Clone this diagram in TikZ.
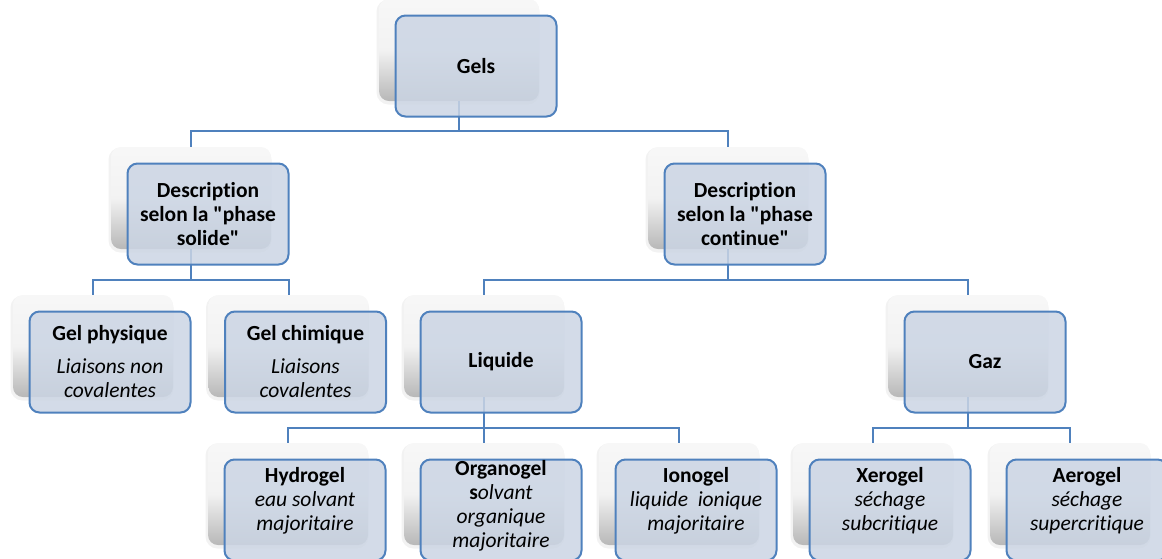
\documentclass[tikz,border=0pt]{standalone}
\usepackage{fontspec}
\setmainfont{Carlito}[Ligatures={TeXOff,NoCommon}]
\usetikzlibrary{calc}
\definecolor{bord}{HTML}{4F81BD}
\definecolor{frontfill}{HTML}{CBD5E4}
\tikzset{
  shadowbox/.style={rectangle, rounded corners=10pt, minimum width=160pt, minimum height=102pt,
    inner sep=0pt, top color=black!3, bottom color=black!28, middle color=black!5, draw=none},
  softedge/.style={rectangle, rounded corners=12pt, minimum width=163pt, minimum height=105pt,
    inner sep=0pt, fill=black, fill opacity=0.05, draw=none},
  frontbox/.style={rectangle, rounded corners=10pt, minimum width=161pt, minimum height=101pt,
    inner sep=2pt, draw=bord, line width=2pt, fill=frontfill, fill opacity=0.85, text opacity=1,
    align=center, font=\fontsize{21.5}{24}\selectfont},
  txt/.style={align=center, font=\fontsize{21.5}{24}\selectfont, inner sep=0pt},
  conn/.style={draw=bord, line width=2pt}
}
\newcommand{\shadowpair}[3]{%
  \node[softedge] at (#2pt-1pt,-#3pt-2pt) {};
  \node[shadowbox] (#1) at (#2pt,-#3pt) {};
}
\begin{document}
\begin{tikzpicture}[x=1pt,y=1pt]
\useasboundingbox (0,0) rectangle (1162,-558);
% shadow (back) boxes
\shadowpair{gels-s}{459}{50}
\shadowpair{sol-s}{191}{198}
\shadowpair{cont-s}{728}{198}
\shadowpair{phys-s}{93}{346}
\shadowpair{chim-s}{288.5}{346}
\shadowpair{liq-s}{484}{346}
\shadowpair{gaz-s}{968}{346}
\shadowpair{hydro-s}{288}{494}
\shadowpair{orga-s}{484}{494}
\shadowpair{iono-s}{679}{494}
\shadowpair{xero-s}{873}{494}
\shadowpair{aero-s}{1070}{494}
% bus levels
\coordinate (bus1) at (0,-131);
\coordinate (bus2) at (0,-280);
\coordinate (bus3) at (0,-428);
% connectors
\draw[conn] (gels-s.south) -- (gels-s.south |- bus1);
\draw[conn] (sol-s.north) |- (gels-s.south |- bus1) -| (cont-s.north);
\draw[conn] (sol-s.south) -- (sol-s.south |- bus2);
\draw[conn] (phys-s.north) |- (sol-s.south |- bus2) -| (chim-s.north);
\draw[conn] (cont-s.south) -- (cont-s.south |- bus2);
\draw[conn] (liq-s.north) |- (cont-s.south |- bus2) -| (gaz-s.north);
\draw[conn] (liq-s.south) -- (orga-s.north);
\draw[conn] (hydro-s.north) |- (liq-s.south |- bus3) -| (iono-s.north);
\draw[conn] (gaz-s.south) -- (gaz-s.south |- bus3);
\draw[conn] (xero-s.north) |- (gaz-s.south |- bus3) -| (aero-s.north);
% front boxes
\node[frontbox] (gels) at ($(gels-s)+(17,-16)$) {\bfseries Gels};
\node[frontbox] (sol) at ($(sol-s)+(17,-16)$) {\bfseries Description\\\bfseries selon la "phase\\\bfseries solide"};
\node[frontbox] (cont) at ($(cont-s)+(17,-16)$) {\bfseries Description\\\bfseries selon la "phase\\\bfseries continue"};
\node[frontbox] (phys) at ($(phys-s)+(17,-16)$) {\bfseries Gel physique\\[9pt]\itshape Liaisons non\\\itshape covalentes};
\node[frontbox] (chim) at ($(chim-s)+(17,-16)$) {\bfseries Gel chimique\\[9pt]\itshape Liaisons\\\itshape covalentes};
\node[frontbox] (liq) at ($(liq-s)+(17,-16)$) {\bfseries Liquide};
\node[frontbox] (gaz) at ($(gaz-s)+(17,-16)$) {\bfseries Gaz};
\node[frontbox] (hydro) at ($(hydro-s)+(17,-16)$) {};
\node[frontbox] (orga) at ($(orga-s)+(17,-16)$) {};
\node[frontbox] (iono) at ($(iono-s)+(17,-16)$) {};
\node[frontbox] (xero) at ($(xero-s)+(17,-16)$) {};
\node[frontbox] (aero) at ($(aero-s)+(17,-16)$) {};
% bottom texts
\node[txt] (hydro-t) at ($(hydro)+(0,9)$) {\bfseries Hydrogel\\\itshape eau solvant\\\itshape majoritaire};
\node[txt] (orga-t) at ($(orga)+(0,4)$) {\bfseries Organogel\\{\bfseries s}\itshape olvant\\\itshape organique\\\itshape majoritaire};
\node[txt] (iono-t) at ($(iono)+(0,9)$) {\bfseries Ionogel\\\itshape liquide~ ionique\\\itshape majoritaire};
\node[txt] (xero-t) at ($(xero)+(0,9)$) {\bfseries Xerogel\\\itshape séchage\\\itshape subcritique};
\node[txt] (aero-t) at ($(aero)+(0,9)$) {\bfseries Aerogel\\\itshape séchage\\\itshape supercritique};
\end{tikzpicture}
\end{document}
